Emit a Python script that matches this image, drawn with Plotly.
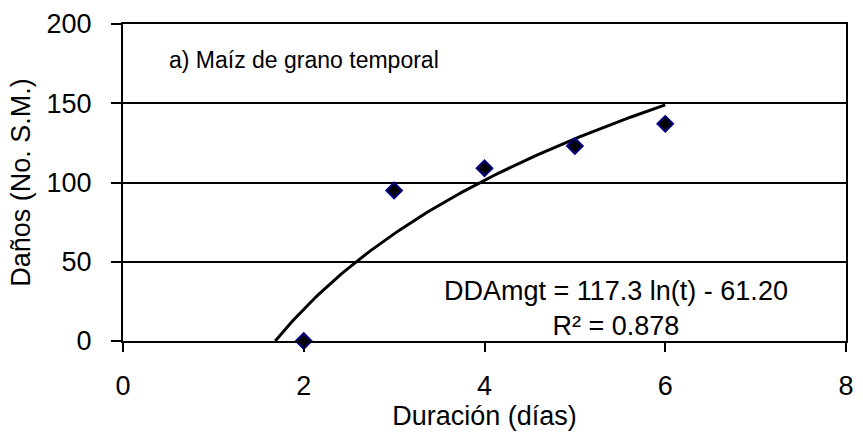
import numpy as np
import plotly.graph_objects as go

# Observed data
dias = [2, 3, 4, 5, 6]
danos = [0, 95, 109, 123, 137]

# Trend line coefficients shown on the chart: DDAmgt = 117.3 ln(t) - 61.20
coef_a = 117.3
coef_b = -61.20
t_start = float(np.exp(-coef_b / coef_a))
t_end = 6.0
t_fit = np.linspace(t_start, t_end, 120)
y_fit = coef_a * np.log(t_fit) + coef_b

x_ticks = [0, 2, 4, 6, 8]
y_ticks = [0, 50, 100, 150, 200]

FONT = "Liberation Sans, Arial, sans-serif"

fig = go.Figure()
fig.add_trace(go.Scatter(
    x=t_fit, y=y_fit, mode="lines",
    line=dict(color="black", width=3),
    showlegend=False, hoverinfo="skip",
))
fig.add_trace(go.Scatter(
    x=dias, y=danos, mode="markers",
    marker=dict(symbol="diamond", size=12, color="black",
                line=dict(color="#000080", width=2)),
    showlegend=False, cliponaxis=False,
))

fig.add_annotation(
    x=0.49, y=177, xref="x", yref="y", xanchor="left", yanchor="middle",
    text="a) Maíz de grano temporal", showarrow=False,
    font=dict(family=FONT, size=23, color="black"),
)
fig.add_annotation(
    x=5.46, y=20.5, xref="x", yref="y", xanchor="center", yanchor="middle",
    text="DDAmgt = 117.3 ln(t) - 61.20<br>R² = 0.878", showarrow=False,
    align="center",
    font=dict(family=FONT, size=27, color="black"),
)

fig.update_layout(
    width=863, height=436,
    margin=dict(l=123, r=9, t=23, b=95),
    paper_bgcolor="white", plot_bgcolor="white",
    font=dict(family=FONT, size=27, color="black"),
    xaxis=dict(
        range=[0, 8], tickvals=x_ticks, ticktext=[str(v) for v in x_ticks],
        showgrid=False, zeroline=False,
        showline=True, linecolor="black", linewidth=2, mirror=True,
        ticks="outside", ticklen=9, tickwidth=2, tickcolor="black",
        ticklabelstandoff=11,
        tickfont=dict(family=FONT, size=27),
        title=dict(text="Duración (días)", font=dict(family=FONT, size=27), standoff=0),
    ),
    yaxis=dict(
        range=[0, 200], tickvals=y_ticks, ticktext=[str(v) for v in y_ticks],
        showgrid=True, gridcolor="black", gridwidth=2, zeroline=False,
        showline=True, linecolor="black", linewidth=2, mirror=True,
        ticks="outside", ticklen=10, tickwidth=2, tickcolor="black",
        ticklabelstandoff=14,
        tickfont=dict(family=FONT, size=27),
        title=dict(text="Daños (No. S.M.)", font=dict(family=FONT, size=27), standoff=8),
    ),
)

fig.write_html("out.html")
